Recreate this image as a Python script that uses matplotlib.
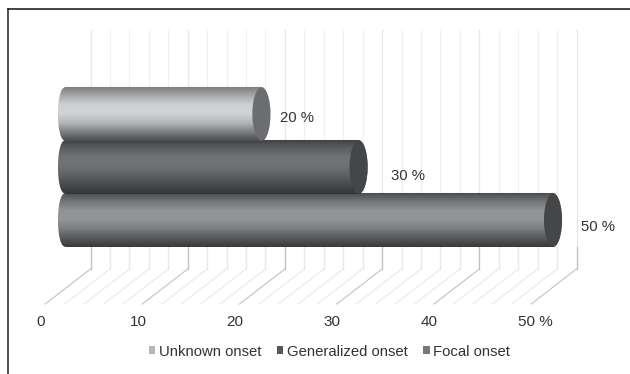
import matplotlib
matplotlib.use('Agg')
import matplotlib.pyplot as plt
import numpy as np
from matplotlib.colors import LinearSegmentedColormap
from matplotlib.patches import Ellipse, PathPatch, Rectangle
from matplotlib.path import Path

plt.rcParams['font.family'] = ['Liberation Sans', 'DejaVu Sans']

categories = ['Unknown onset', 'Generalized onset', 'Focal onset']
values = [20, 30, 50]
value_labels = ['20 %', '30 %', '50 %']
tick_values = [0, 10, 20, 30, 40, 50]
tick_labels = ['0', '10', '20', '30', '40', '50 %']
grid_values = list(range(0, 52, 2))

# shading from top edge to bottom edge of each cylinder
body_colors = [
    ['#77787b', '#a5a6a8', '#cfd0d2', '#d2d3d5', '#b4b5b7', '#7e7f81', '#4a4b4d'],
    ['#3f4042', '#5c5d5f', '#727376', '#717275', '#5e5f61', '#48494b', '#343537'],
    ['#47484a', '#737476', '#929396', '#949598', '#7c7d80', '#58595b', '#38393b'],
]
cap_colors = ['#6c6d70', '#454648', '#454648']
legend_colors = ['#b5b6b8', '#56575a', '#77787b']

PX = 9.72       # pixels per percent
X0 = 67         # pixel column of value 0 on the bar plane
Y0 = 114        # pixel row of the first bar centre
ROW = 53        # pixels per category
CAP = 0.93      # half width of the end ellipse, in percent
HALF = 0.51     # half height of a cylinder, in rows
BACK = 2.42     # shift of the back wall along x
FRONT = -2.25   # shift of the front floor edge along x


def row(py):
    return (py - Y0) / ROW


fig = plt.figure(figsize=(6.3, 3.74), dpi=100)
ax = fig.add_axes([0, 0, 1, 1])

# back wall and floor grid
for v in grid_values:
    major = v % 10 == 0
    ax.plot([v + BACK, v + BACK], [row(30), row(269)], color='#e6e6e6' if major else '#f0f0f0', lw=0.9, zorder=1)
    ax.plot([v + BACK, v + BACK], [row(247), row(269)], color='#c0c0c0' if major else '#e8e8e8', lw=0.9, zorder=1)
    ax.plot([v + BACK, v + FRONT], [row(269), row(304)], color='#c8c8c8' if major else '#ebebeb', lw=0.9, zorder=1)

# cylinders, drawn from the bottom row up so the upper ones overlap
t = np.linspace(-np.pi / 2, np.pi / 2, 40)
for i in [2, 1, 0]:
    v = values[i]
    # the open end is a little squarer than the far ellipse
    left = np.column_stack([-CAP * np.cos(t) ** 0.7, i + HALF * np.sin(t)])
    right = np.column_stack([v + CAP * np.cos(t), i - HALF * np.sin(t)])
    verts = np.vstack([left, right, left[:1]])
    body = PathPatch(Path(verts), facecolor='none', edgecolor='none', transform=ax.transData)
    ax.add_patch(body)
    cmap = LinearSegmentedColormap.from_list('body', body_colors[i])
    im = ax.imshow(np.linspace(0, 1, 256).reshape(-1, 1), cmap=cmap, aspect='auto',
                   extent=(-CAP, v + CAP, i + HALF, i - HALF), zorder=3 + (2 - i) * 2, interpolation='bilinear')
    im.set_clip_path(body)
    ax.add_patch(Ellipse((v, i), 2 * CAP, 2 * HALF - 0.02, facecolor=cap_colors[i], edgecolor='none',
                         zorder=4 + (2 - i) * 2))

# value labels beside the bar ends
label_dx = [1.95, 3.3, 2.9]
label_dy = [0.08, 0.17, 0.13]
for i, v in enumerate(values):
    ax.text(v + label_dx[i], i + label_dy[i], value_labels[i], ha='left', va='center',
            fontsize=10.7, color='#333333', zorder=12)

# axis labels under the floor
for v, s in zip(tick_values, tick_labels):
    ax.text(v - 2.7 + (0.0 if v < 50 else -0.9), row(322), s, ha='center' if v < 50 else 'left', va='center',
            fontsize=11, color='#333333')

handles = [Rectangle((0, 0), 1, 1, facecolor=c, edgecolor='none') for c in legend_colors]
ax.legend(handles, categories, ncol=3, loc='center', bbox_to_anchor=(0.523, 0.06), frameon=False,
          fontsize=10.7, handlelength=0.42, handleheight=0.42, handletextpad=0.25, columnspacing=1.05,
          labelcolor='#333333', borderpad=0)

# outer frame, top and left only
ax.plot([(8 - X0) / PX] * 2, [row(9.5), row(374)], color='#333333', lw=1.2, zorder=20)
ax.plot([(8 - X0) / PX, (630 - X0) / PX], [row(9.5), row(9.5)], color='#222222', lw=1.2, zorder=20)

ax.set_xlim(-X0 / PX, (630 - X0) / PX)
ax.set_ylim(row(374), row(0))
ax.axis('off')

fig.savefig('out.png', dpi=100, facecolor='white')
